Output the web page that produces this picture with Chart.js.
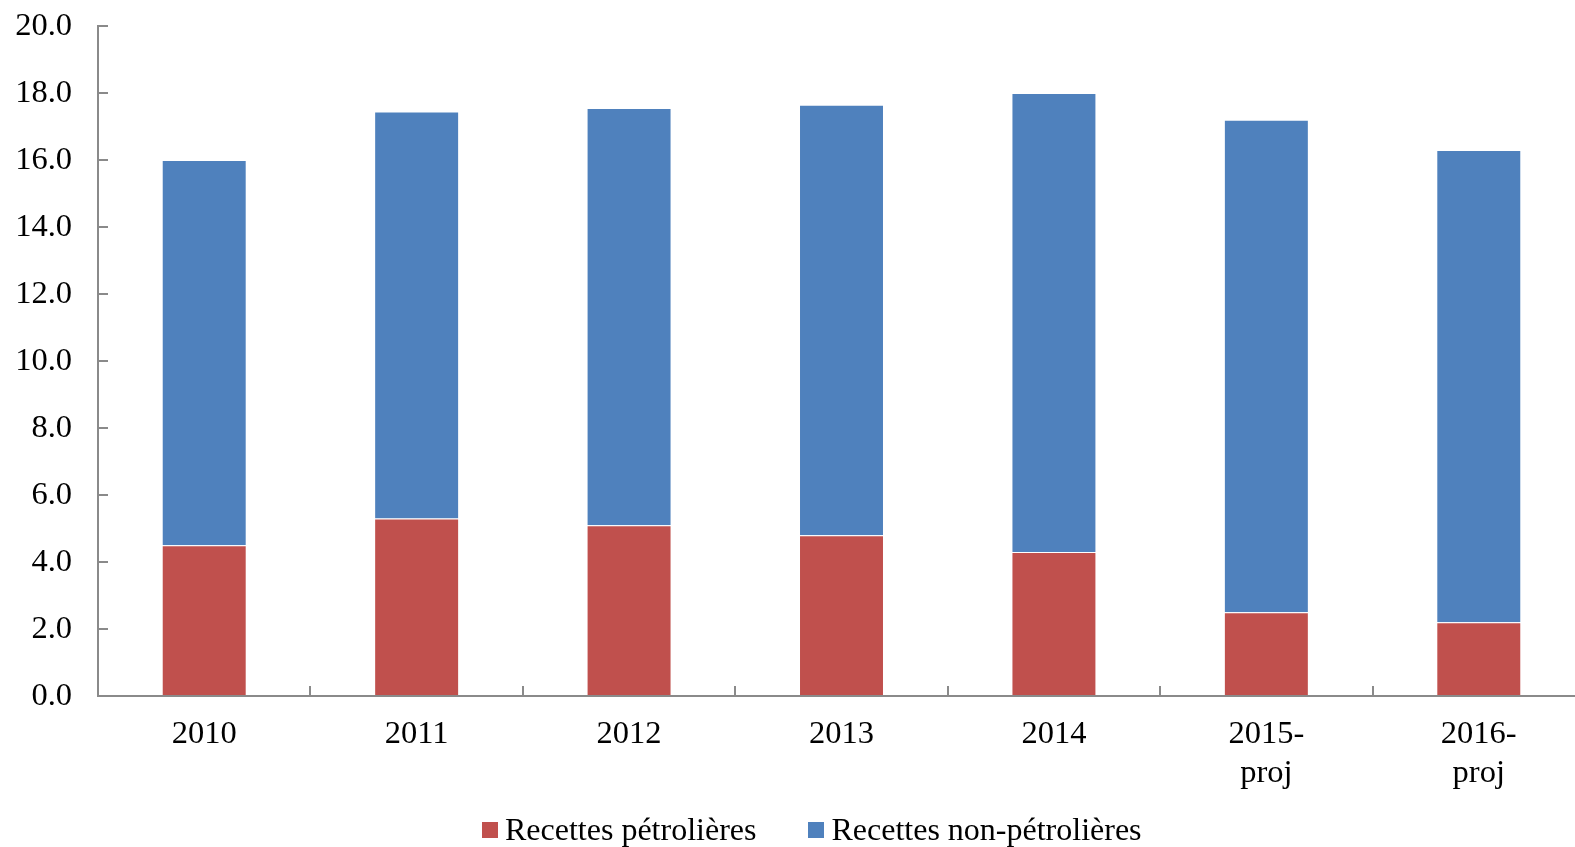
<!DOCTYPE html>
<html>
<head>
<meta charset="utf-8">
<script src="https://cdn.jsdelivr.net/npm/chart.js@4.4.1/dist/chart.umd.min.js"></script>
<style>
  html, body { margin: 0; padding: 0; background: #fff; overflow: hidden; width: 1575px; height: 847px; }
  #wrap { position: absolute; left: 0; top: 0; width: 1600px; height: 847px; }
  #legend { position: absolute; top: 811px; left: 482px; display: flex; align-items: center;
            font-family: "Liberation Serif", "Times New Roman", serif; font-size: 32px; color: #000; white-space: nowrap; }
  .item { display: flex; align-items: center; }
  .sw { width: 16px; height: 16px; margin-right: 7px; }
</style>
</head>
<body>
<div id="wrap"><canvas id="c" width="1600" height="847"></canvas></div>
<div id="legend"></div>
<script>
// Recettes budgétaires (en % du PIB)
const categories = ['2010', '2011', '2012', '2013', '2014', ['2015-', 'proj'], ['2016-', 'proj']];
const recettesPetrolieres = [4.5, 5.3, 5.1, 4.8, 4.3, 2.5, 2.2];
const recettesNonPetrolieres = [11.5, 12.15, 12.45, 12.85, 13.7, 14.7, 14.1];
const seriesNames = ['Recettes pétrolières', 'Recettes non-pétrolières'];
const seriesColors = ['#C0504D', '#4F81BD'];
const yTicks = { min: 0, max: 20, step: 2 };

const FONT = '"Liberation Serif", "Times New Roman", serif';
const AXIS = '#8a8a8a';

const chart = new Chart(document.getElementById('c'), {
  type: 'bar',
  data: {
    labels: categories,
    datasets: [
      { label: seriesNames[0], data: recettesPetrolieres, backgroundColor: seriesColors[0],
        borderColor: 'rgba(255,255,255,0.45)', borderWidth: 1, barPercentage: 0.4, categoryPercentage: 1 },
      { label: seriesNames[1], data: recettesNonPetrolieres, backgroundColor: seriesColors[1],
        borderColor: 'rgba(255,255,255,0.45)', borderWidth: 1, barPercentage: 0.4, categoryPercentage: 1 }
    ]
  },
  options: {
    responsive: false,
    animation: false,
    layout: { padding: { top: 26, right: 15, left: 0, bottom: 0 } },
    plugins: { legend: { display: false }, tooltip: { enabled: false } },
    scales: {
      x: {
        stacked: true,
        grid: { drawOnChartArea: false, color: AXIS, lineWidth: 2, tickLength: -10, tickWidth: 2 },
        border: { color: AXIS, width: 2 },
        ticks: { color: '#000', font: { family: FONT, size: 32.5 }, padding: 29, maxRotation: 0, autoSkip: false },
        afterFit(scale) { scale.height = 151; }
      },
      y: {
        stacked: true,
        min: yTicks.min, max: yTicks.max,
        grid: { drawOnChartArea: false, color: AXIS, lineWidth: 2, tickLength: -10, tickWidth: 2 },
        border: { color: AXIS, width: 2 },
        ticks: { stepSize: yTicks.step, color: '#000', font: { family: FONT, size: 32.5 }, padding: 36,
                 callback: v => Number(v).toFixed(1) },
        afterFit(scale) { scale.width = 98; scale.paddingTop = 0; scale.paddingBottom = 0; }
      }
    }
  }
});

// Legend row built from the dataset names and colours
const legend = document.getElementById('legend');
seriesNames.forEach((name, i) => {
  const item = document.createElement('div');
  item.className = 'item';
  if (i > 0) item.style.marginLeft = '52px';
  const sw = document.createElement('div');
  sw.className = 'sw';
  sw.style.background = seriesColors[i];
  const t = document.createElement('span');
  t.textContent = name;
  item.appendChild(sw);
  item.appendChild(t);
  legend.appendChild(item);
});
</script>
</body>
</html>
